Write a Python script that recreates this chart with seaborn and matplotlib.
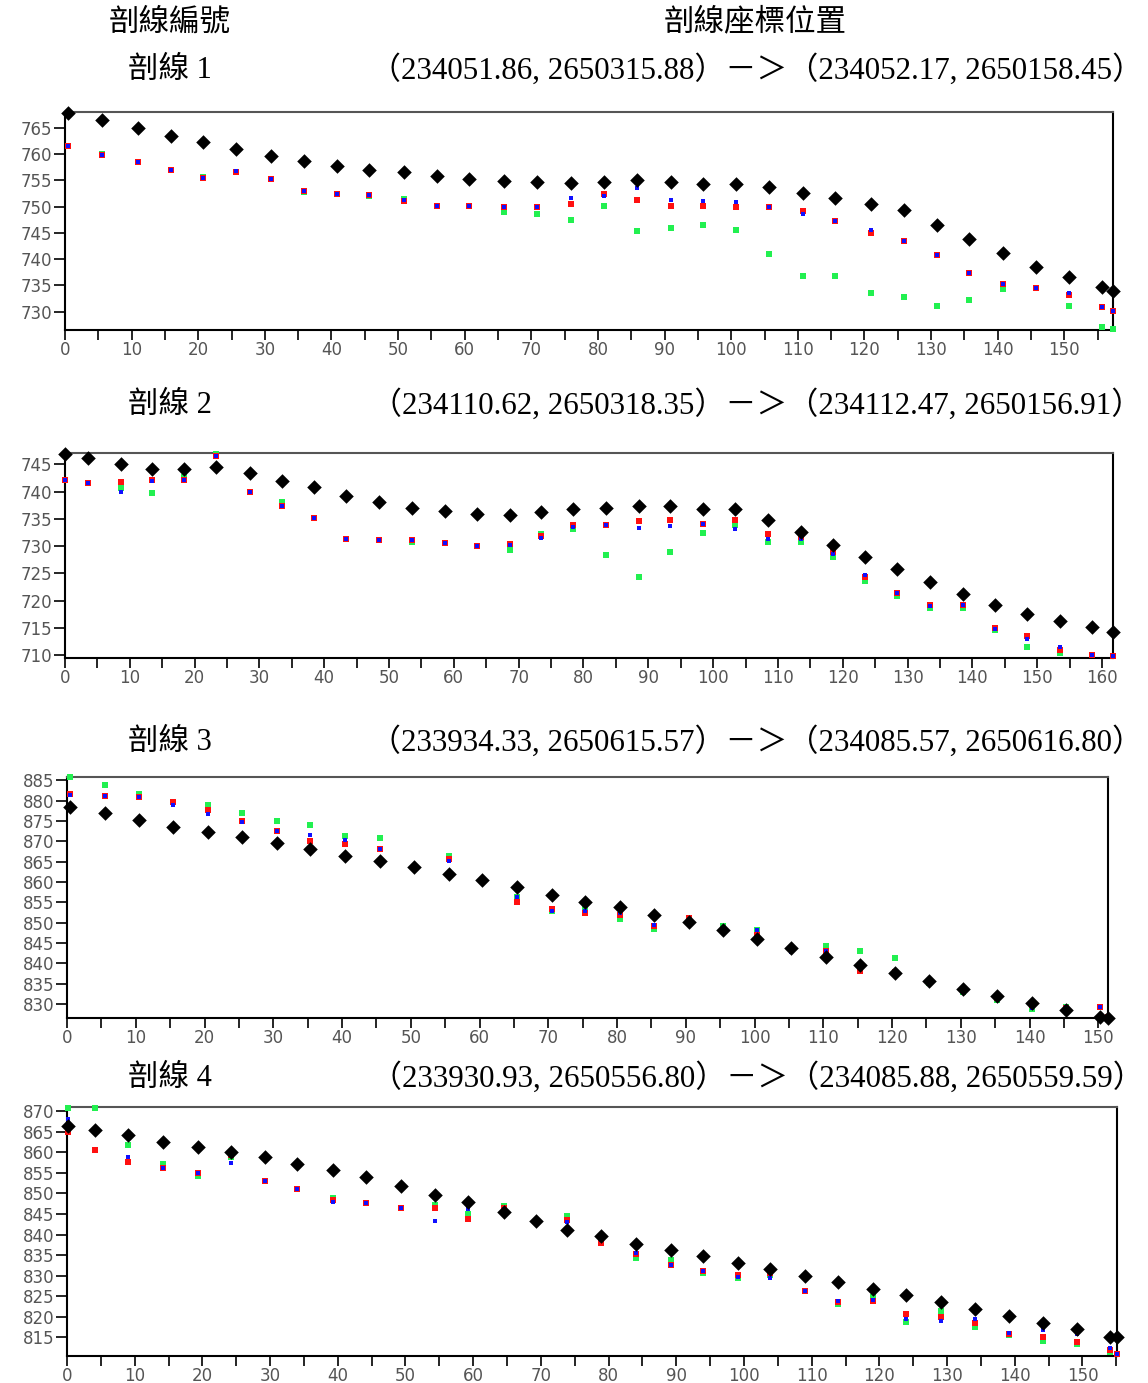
import matplotlib
matplotlib.use("Agg")
import matplotlib.pyplot as plt
import seaborn as sns
import pandas as pd
from matplotlib.ticker import MultipleLocator

sns.set_theme(style="white")
plt.rcParams['font.family'] = ['DejaVu Sans', 'Noto Sans CJK TC']

# ---------------- data ----------------
header_left = "剖線編號"
header_right = "剖線座標位置"
profile_names = ["剖線 1", "剖線 2", "剖線 3", "剖線 4"]
profile_coords = [
    "（234051.86, 2650315.88）－＞（234052.17, 2650158.45）",
    "（234110.62, 2650318.35）－＞（234112.47, 2650156.91）",
    "（233934.33, 2650615.57）－＞（234085.57, 2650616.80）",
    "（233930.93, 2650556.80）－＞（234085.88, 2650559.59）",
]

p1_x = [0.5, 5.5, 10.9, 15.9, 20.7, 25.7, 30.9, 35.8, 40.8, 45.7, 50.9, 55.8, 60.7, 65.9, 70.8,
        76.0, 80.9, 85.9, 90.9, 95.8, 100.7, 105.7, 110.7, 115.6, 121.0, 126.0, 130.9, 135.7,
        140.8, 145.7, 150.7, 155.6, 157.3]
p1_black = [767.9, 766.4, 765.0, 763.5, 762.3, 760.9, 759.7, 758.6, 757.8, 757.0, 756.5, 755.9,
            755.3, 754.8, 754.6, 754.5, 754.6, 755.0, 754.6, 754.3, 754.2, 753.7, 752.6, 751.6,
            750.5, 749.4, 746.5, 743.8, 741.1, 738.4, 736.5, 734.6, 734.0]
p1_red = [761.5, 759.9, 758.5, 756.9, 755.5, 756.5, 755.3, 753.0, 752.4, 752.2, 751.0, 750.2,
          750.2, 749.9, 749.9, 750.4, 752.4, 751.3, 750.2, 750.2, 749.9, 749.9, 749.2, 747.2,
          745.0, 743.5, 740.7, 737.4, 735.3, 734.5, 733.2, 730.9, 730.2]
p1_blue = [761.5, 759.9, 758.5, 756.9, 755.5, 756.7, 755.3, 753.0, 752.4, 752.2, 751.3, 750.2,
           750.2, 749.9, 749.9, 751.6, 752.0, 753.6, 751.2, 751.0, 750.8, 749.9, 748.6, 747.2,
           745.6, 743.5, 740.7, 737.4, 735.3, 734.5, 733.5, 730.9, 730.2]
p1_green = [761.6, 760.0, 758.4, 756.9, 755.6, 756.5, 755.3, 752.8, 752.4, 752.1, 751.5, 750.1,
            750.2, 748.9, 748.6, 747.5, 750.2, 745.3, 745.9, 746.4, 745.6, 740.9, 736.7, 736.7,
            733.6, 732.7, 731.1, 732.2, 734.3, 734.5, 731.1, 727.0, 726.6]

p2_x = [0.0, 3.6, 8.6, 13.4, 18.4, 23.3, 28.5, 33.5, 38.4, 43.4, 48.5, 53.5, 58.6, 63.6, 68.6,
        73.4, 78.4, 83.4, 88.5, 93.3, 98.4, 103.4, 108.4, 113.5, 118.5, 123.4, 128.4, 133.5,
        138.5, 143.5, 148.4, 153.5, 158.5, 161.7]
p2_black = [747.0, 746.2, 745.0, 744.2, 744.2, 744.5, 743.4, 742.0, 740.9, 739.3, 738.2, 737.1,
            736.5, 736.0, 735.7, 736.3, 736.8, 737.0, 737.4, 737.4, 736.8, 736.8, 734.8, 732.7,
            730.3, 728.1, 725.8, 723.5, 721.3, 719.3, 717.5, 716.3, 715.2, 714.3]
p2_red = [742.1, 741.6, 741.8, 742.2, 742.1, 746.6, 739.9, 737.3, 735.1, 731.4, 731.1, 731.1,
          730.6, 730.0, 730.5, 731.8, 733.9, 733.9, 734.6, 734.9, 734.1, 734.9, 732.2, 731.7,
          729.0, 724.3, 721.5, 719.2, 719.2, 715.0, 713.5, 711.0, 710.1, 709.8]
p2_blue = [742.1, 741.6, 739.9, 742.0, 742.1, 746.6, 739.9, 737.3, 735.1, 731.4, 731.1, 731.1,
           730.6, 730.0, 730.3, 731.5, 733.6, 733.9, 733.4, 733.7, 734.0, 733.1, 731.4, 731.3,
           728.6, 724.7, 721.5, 719.0, 719.2, 714.9, 712.9, 711.6, 710.1, 709.8]
p2_green = [742.1, 741.6, 740.7, 739.8, 742.7, 747.0, 739.9, 738.1, 735.1, 731.4, 731.1, 730.8,
            730.6, 730.0, 729.3, 732.3, 733.1, 728.4, 724.4, 729.0, 732.5, 733.9, 730.8, 730.8,
            728.1, 723.7, 720.9, 718.6, 718.6, 714.7, 711.6, 710.4, 710.1, 709.8]

p3_x = [0.4, 5.5, 10.5, 15.4, 20.5, 25.5, 30.5, 35.4, 40.5, 45.5, 50.5, 55.5, 60.4, 65.5, 70.5,
        75.4, 80.4, 85.4, 90.4, 95.4, 100.4, 105.3, 110.4, 115.4, 120.4, 125.3, 130.3, 135.3,
        140.4, 145.3, 150.3, 151.4]
p3_black = [878.4, 877.0, 875.2, 873.5, 872.3, 871.0, 869.6, 868.1, 866.5, 865.2, 863.6, 862.0,
            860.6, 858.7, 856.7, 855.2, 853.9, 852.0, 850.1, 848.1, 846.0, 843.8, 841.7, 839.7,
            837.6, 835.6, 833.8, 831.9, 830.4, 828.6, 826.8, 826.6]
p3_red = [881.6, 881.1, 880.8, 879.7, 877.8, 875.1, 872.6, 870.2, 869.4, 868.1, 863.6, 865.7,
          860.2, 855.0, 853.4, 852.5, 852.0, 849.3, 851.1, 848.3, 847.0, 843.6, 843.1, 838.2,
          837.8, 835.6, 833.4, 831.6, 829.8, 829.0, 829.2, 826.8]
p3_blue = [881.4, 881.1, 880.8, 879.0, 876.7, 874.7, 872.6, 871.6, 870.4, 868.1, 863.6, 865.1,
           861.0, 856.3, 853.0, 853.0, 852.5, 849.5, 849.8, 848.5, 848.1, 842.7, 843.1, 839.2,
           838.2, 835.4, 833.1, 831.3, 829.0, 829.4, 829.4, 826.8]
p3_green = [885.8, 883.8, 881.7, 879.7, 878.8, 877.0, 875.1, 873.9, 871.2, 870.7, 863.8, 866.5,
            860.4, 856.3, 853.0, 853.8, 850.9, 848.4, 850.3, 849.3, 848.1, 843.6, 844.4, 843.1,
            841.3, 835.2, 833.1, 830.9, 828.8, 829.4, 829.4, 826.8]

p4_x = [0.1, 4.1, 9.0, 14.2, 19.3, 24.2, 29.2, 34.0, 39.3, 44.1, 49.3, 54.4, 59.3, 64.5, 69.3,
        73.9, 78.9, 84.0, 89.2, 93.9, 99.1, 103.9, 109.0, 113.9, 119.0, 124.0, 129.1, 134.1,
        139.1, 144.2, 149.2, 154.0, 155.1]
p4_black = [866.5, 865.3, 864.1, 862.5, 861.2, 860.1, 858.8, 857.2, 855.8, 854.0, 851.7, 849.6,
            847.8, 845.6, 843.4, 841.2, 839.6, 837.8, 836.2, 834.8, 833.0, 831.6, 830.0, 828.4,
            826.8, 825.2, 823.6, 821.8, 820.2, 818.6, 817.0, 815.2, 815.0]
p4_red = [865.0, 860.6, 857.7, 856.2, 855.0, 859.4, 853.0, 851.0, 848.4, 847.6, 846.4, 846.4,
          843.8, 846.5, 843.4, 843.6, 838.0, 835.4, 832.6, 831.2, 830.2, 830.7, 826.2, 823.5,
          823.8, 820.7, 820.0, 818.5, 815.8, 815.0, 814.0, 812.0, 811.0]
p4_blue = [868.1, 865.0, 858.8, 856.2, 855.0, 857.4, 853.0, 851.0, 848.0, 847.6, 846.4, 843.2,
           846.2, 846.2, 843.4, 843.0, 838.6, 835.6, 832.6, 831.2, 829.8, 829.5, 826.2, 823.8,
           824.0, 819.5, 819.0, 819.6, 816.2, 816.7, 815.8, 812.5, 811.0]
p4_green = [870.8, 870.8, 861.7, 857.2, 854.2, 858.8, 853.0, 851.0, 848.8, 847.6, 846.4, 847.2,
            845.0, 847.0, 843.4, 844.4, 838.3, 834.3, 833.8, 830.7, 829.5, 830.2, 826.2, 823.2,
            824.8, 818.7, 821.4, 817.5, 815.5, 814.2, 813.4, 811.5, 811.0]

p1_yticks = [730, 735, 740, 745, 750, 755, 760, 765]
p2_yticks = [710, 715, 720, 725, 730, 735, 740, 745]
p3_yticks = [830, 835, 840, 845, 850, 855, 860, 865, 870, 875, 880, 885]
p4_yticks = [815, 820, 825, 830, 835, 840, 845, 850, 855, 860, 865, 870]

# ---------------- layout ----------------
W, H = 1148, 1383
fig = plt.figure(figsize=(W / 100, H / 100), dpi=100)
fig.patch.set_facecolor("white")

def px(x, y):
    return x / W, 1 - y / H

# axes boxes in pixels: left, top, right, bottom
boxes = [(65, 112, 1113, 330), (65, 453, 1113, 658), (67, 777, 1108, 1018), (67, 1107, 1117, 1356)]
ylims = [(726.5, 768.0), (709.5, 747.1), (826.6, 885.8), (810.5, 871.0)]
xlims = [(0, 157.3), (0, 161.7), (0, 151.4), (0, 155.1)]
title_y = [70, 405, 742, 1078]

panels = [
    (p1_x, p1_black, p1_red, p1_blue, p1_green, p1_yticks),
    (p2_x, p2_black, p2_red, p2_blue, p2_green, p2_yticks),
    (p3_x, p3_black, p3_red, p3_blue, p3_green, p3_yticks),
    (p4_x, p4_black, p4_red, p4_blue, p4_green, p4_yticks),
]

cjk_serif = ['Liberation Serif', 'Noto Sans CJK TC']
fig.text(*px(170, 22), header_left, ha='center', va='center', fontsize=22,
         family=['Noto Sans CJK TC'], color='black')
fig.text(*px(755, 22), header_right, ha='center', va='center', fontsize=22,
         family=['Noto Sans CJK TC'], color='black')

for i, (xs, yb, yr, ybl, yg, yt) in enumerate(panels):
    l, t, r, b = boxes[i]
    ax = fig.add_axes([l / W, 1 - b / H, (r - l) / W, (b - t) / H])
    ax.set_facecolor("white")
    df = pd.DataFrame({"x": xs, "black": yb, "red": yr, "blue": ybl, "green": yg})
    sns.scatterplot(data=df, x="x", y="green", ax=ax, color="#22f050", marker="s", s=14,
                    linewidth=0, clip_on=False, zorder=3)
    sns.scatterplot(data=df, x="x", y="red", ax=ax, color="#ff1010", marker="s", s=14,
                    linewidth=0, clip_on=False, zorder=4)
    sns.scatterplot(data=df, x="x", y="blue", ax=ax, color="#1010ff", marker="s", s=12,
                    linewidth=0, clip_on=False, zorder=5)
    sns.scatterplot(data=df, x="x", y="black", ax=ax, color="black", marker="D", s=55,
                    linewidth=0, clip_on=False, zorder=6)
    ax.set_xlim(*xlims[i])
    ax.set_ylim(*ylims[i])
    ax.set_xlabel("")
    ax.set_ylabel("")
    ax.set_yticks(yt)
    ax.xaxis.set_major_locator(MultipleLocator(10))
    ax.xaxis.set_minor_locator(MultipleLocator(5))
    ax.tick_params(axis='both', which='both', direction='out', color='black', width=1.2,
                   labelsize=12, labelcolor='#555555')
    ax.tick_params(axis='y', which='major', length=8, pad=1, left=True)
    ax.tick_params(axis='x', which='major', length=7, pad=1, bottom=True)
    ax.tick_params(axis='x', which='minor', length=7, bottom=True)
    for side in ['left', 'bottom', 'right']:
        ax.spines[side].set_color('black')
        ax.spines[side].set_linewidth(1.5)
        ax.spines[side].set_visible(True)
    ax.spines['top'].set_color('#555555')
    ax.spines['top'].set_linewidth(1.5)
    ax.spines['top'].set_visible(True)
    ax.grid(False)
    if ax.get_legend():
        ax.get_legend().remove()

    fig.text(*px(170, title_y[i]), profile_names[i], ha='center', va='center', fontsize=22,
             family=cjk_serif, color='black')
    fig.text(*px(757, title_y[i]), profile_coords[i], ha='center', va='center', fontsize=22.3,
             family=cjk_serif, color='black')

fig.savefig("out.png", dpi=100, facecolor="white")
